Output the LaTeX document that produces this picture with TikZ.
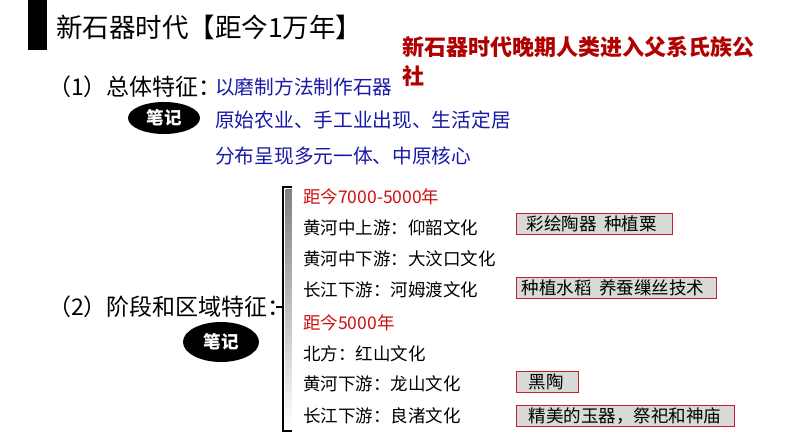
\documentclass[tikz,border=0pt]{standalone}
\usepackage{fontspec}
\setmainfont{Noto Sans CJK SC}
\usetikzlibrary{shapes.geometric,calc}
\definecolor{headred}{HTML}{B00000}
\definecolor{erared}{HTML}{D01010}
\definecolor{featblue}{HTML}{1A1AA8}
\definecolor{boxgray}{HTML}{D9D9D9}
\definecolor{boxred}{HTML}{C8202A}
\definecolor{shade}{HTML}{D4D4D4}
\tikzset{
  txt/.style={anchor=west, inner sep=0pt, font=\fontsize{17.5}{20}\selectfont, text=black},
  era/.style={txt, text=erared},
  feat/.style={anchor=west, inner sep=0pt, font=\fontsize{19.7}{22}\selectfont, text=featblue},
  sect/.style={anchor=west, inner sep=0pt, font=\fontsize{23}{26}\selectfont, text=black},
  note/.style={ellipse, fill=black, text=white, inner sep=0pt, font=\bfseries\fontsize{17.5}{20}\selectfont},
  tagbox/.style={anchor=west, draw=boxred, fill=boxgray, line width=1.2pt, minimum height=21pt, inner ysep=0pt, align=left, font=\fontsize{17.5}{20}\selectfont}
}
\begin{document}
\begin{tikzpicture}[x=1pt,y=-1pt]
\useasboundingbox (0,0) rectangle (794,447);
\fill[white] (0,0) rectangle (794,447);
% title bar
\fill[black] (28,0) rectangle (47,50);
\node[anchor=west, inner sep=0pt, font=\fontsize{26.5}{30}\selectfont] (title) at (56,27) {新石器时代【距今1万年】};
% red heading
\node[anchor=north west, inner sep=0pt, align=left, text=headred, font=\bfseries\fontsize{22}{29}\selectfont] (head) at (402,36) {新石器时代晚期人类进入父系氏族公\\社};
% section 1
\node[sect] (s1) at (48,87) {（1）总体特征：};
\node[feat] (f1) at (215,87) {以磨制方法制作石器};
\node[feat] (f2) at (215,120) {原始农业、手工业出现、生活定居};
\node[feat] (f3) at (215,156) {分布呈现多元一体、中原核心};
\node[note, minimum width=72pt, minimum height=32pt] (n1) at (164,118) {笔记};
% section 2
\node[sect] (s2) at (48,307) {（2）阶段和区域特征：};
\node[note, minimum width=76pt, minimum height=40pt] (n2) at (221,342) {笔记};
% bracket
\coordinate (btop) at (283,187);
\coordinate (bbot) at (283,431);
\coordinate (bmid) at (283,307);
\fill[shade] (285.5,189) rectangle (291.5,429);
\draw[line width=1.8pt] ($(btop)+(9,0)$) -- (btop) -- (bbot) -- ($(bbot)+(9,0)$);
\draw[line width=1.8pt] (bmid) -- ($(bmid)+(-7,0)$);
% list
\node[era] (e1) at (303,197) {距今7000-5000年};
\node[txt] (l1) at (303,228) {黄河中上游：仰韶文化};
\node[txt] (l2) at (303,259) {黄河中下游：大汶口文化};
\node[txt] (l3) at (303,290) {长江下游：河姆渡文化};
\node[era] (e2) at (303,323) {距今5000年};
\node[txt] (l4) at (303,354) {北方：红山文化};
\node[txt] (l5) at (303,384) {黄河下游：龙山文化};
\node[txt] (l6) at (303,416) {长江下游：良渚文化};
% tag boxes
\node[tagbox, inner xsep=10pt, text width=136pt] (b1) at (516,224) {彩绘陶器\hspace{0.45em}种植粟};
\node[tagbox, inner xsep=5pt, text width=190pt] (b2) at (516,288) {种植水稻\hspace{0.45em}养蚕缫丝技术};
\node[tagbox, inner xsep=12pt, text width=38pt] (b3) at (516,382) {黑陶};
\node[tagbox, inner xsep=12pt, text width=194pt] (b4) at (516,416) {精美的玉器，祭祀和神庙};
\end{tikzpicture}
\end{document}
